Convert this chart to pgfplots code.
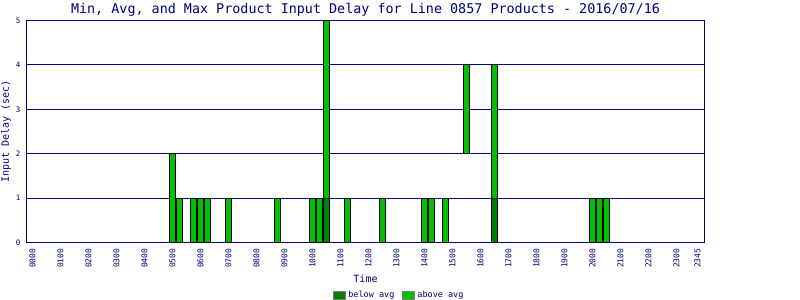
\documentclass[border=0pt]{standalone}
\usepackage{pgfplots}
\usepackage{pgfplotstable}
\pgfplotsset{compat=1.18}
\usepackage{fontspec}
\setmainfont{DejaVu Sans Mono}
\definecolor{navy}{RGB}{0,0,128}
\definecolor{darkg}{RGB}{0,128,0}
\definecolor{brightg}{RGB}{0,192,0}

\pgfplotstableread{
slot base dark bright
20 0 0 2
21 0 0 1
23 0 0 1
24 0 0 1
25 0 0 1
28 0 0 1
35 0 0 1
40 0 0 1
41 0 0 1
42 0 1 4
45 0 0 1
50 0 0 1
56 0 0 1
57 0 0 1
59 0 0 1
62 2 0 2
66 0 1 3
80 0 0 1
81 0 0 1
82 0 0 1
}\delaydata

\begin{document}
\begin{tikzpicture}
\begin{axis}[
  scale only axis, width=678pt, height=222pt,
  xmin=-0.857, xmax=96, ymin=0, ymax=5,
  ybar stacked, bar width=0.72,
  separate axis lines,
  axis line style={navy, line width=1pt},
  ymajorgrids, grid style={navy, line width=1pt},
  ytick={0,1,2,3,4,5},
  xtick={0,4,8,12,16,20,24,28,32,36,40,44,48,52,56,60,64,68,72,76,80,84,88,92,95},
  xticklabels={0000,0100,0200,0300,0400,0500,0600,0700,0800,0900,1000,1100,1200,1300,1400,1500,1600,1700,1800,1900,2000,2100,2200,2300,2345},
  major tick length=0pt,
  /pgf/number format/assume math mode=true,
  xticklabel style={rotate=90, anchor=east, inner sep=0pt, font=\fontsize{8}{9}\selectfont, text=navy},
  xticklabel shift=6pt,
  yticklabel style={anchor=east, inner sep=0pt, font=\fontsize{7.5}{9}\selectfont, text=navy},
  yticklabel shift=6pt,
  title={Min, Avg, and Max Product Input Delay for Line 0857 Products - 2016/07/16},
  title style={at={(axis description cs:0.5,1)}, anchor=base, yshift=0.5pt, inner sep=0pt, font=\fontsize{13.4}{15}\selectfont, text=navy},
  xlabel={Time},
  xlabel style={at={(axis description cs:0.5,0)}, anchor=base, yshift=-40pt, inner sep=0pt, font=\fontsize{10}{12}\selectfont, text=navy},
  ylabel={Input Delay (sec)},
  ylabel style={at={(axis description cs:0,0.5)}, anchor=base, yshift=17.5pt, inner sep=0pt, font=\fontsize{10}{12}\selectfont, text=navy},
  legend columns=2,
  legend style={at={(axis description cs:0.55,0)}, anchor=center, yshift=-53pt, draw=none, fill=none,
    font=\fontsize{8.5}{10}\selectfont, text=navy,
    /tikz/every even column/.append style={column sep=6pt}},
  legend image code/.code={\draw[#1, draw=gray, line width=1pt] (0pt,-4pt) rectangle (12pt,4pt);},
]
\addplot[forget plot, draw=none, fill=none] table[x=slot,y=base]{\delaydata};
\addplot[fill=darkg, draw=black, line width=1pt] table[x=slot,y=dark]{\delaydata};
\addplot[fill=brightg, draw=black, line width=1pt] table[x=slot,y=bright]{\delaydata};
\legend{below avg, above avg}
\coordinate (ll) at (rel axis cs:0,0);
\coordinate (ur) at (rel axis cs:1,1);
\end{axis}
\pgfresetboundingbox
\path ([shift={(-26.5pt,-57.5pt)}]ll) rectangle ([shift={(95.5pt,20.5pt)}]ur);
\end{tikzpicture}
\end{document}
